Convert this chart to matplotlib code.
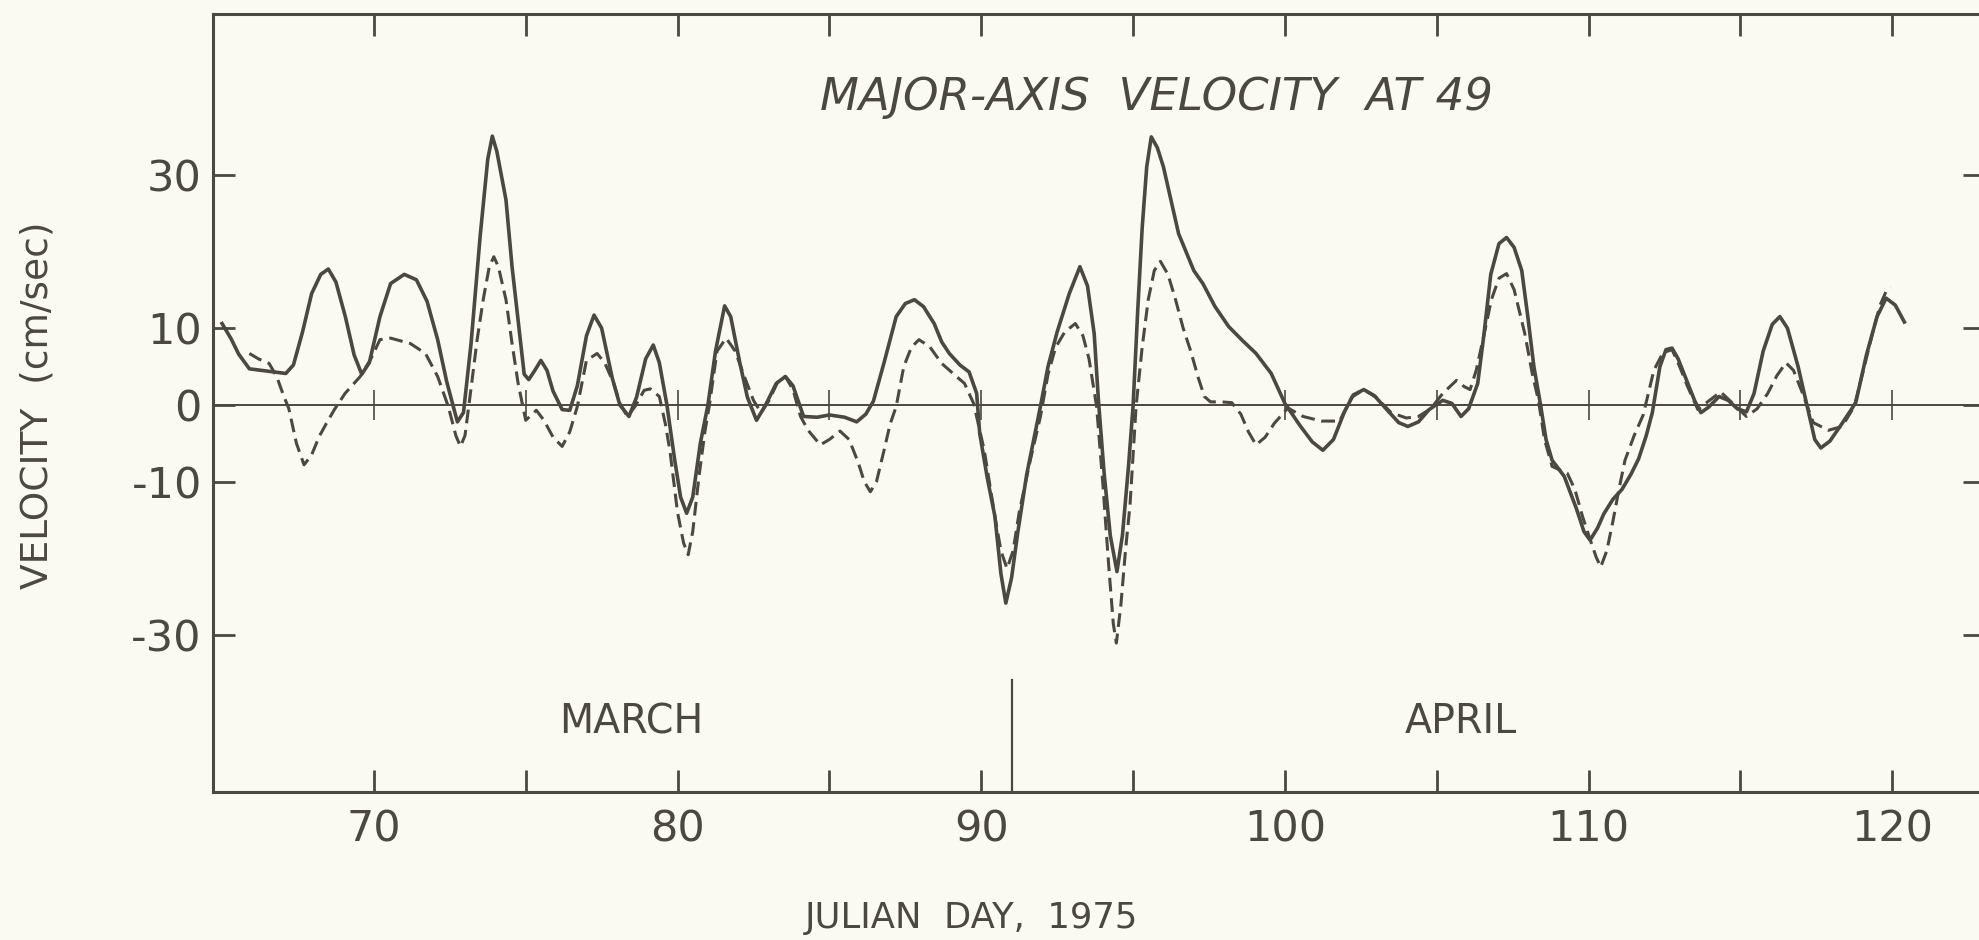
import matplotlib
matplotlib.use("Agg")
from matplotlib import pyplot as plt

# Major-axis velocity at mooring 49 (solid and dashed traces)
solid_day = [65.0, 65.3, 65.55, 65.9, 66.5, 67.1, 67.35, 67.65, 67.95, 68.25, 68.5, 68.75,
             69.06, 69.35, 69.6, 69.85, 70.2, 70.55, 71.0, 71.4, 71.75, 72.1, 72.4, 72.6,
             72.75, 72.95, 73.2, 73.5, 73.75, 73.9, 74.05, 74.35, 74.55, 74.75, 74.95, 75.1,
             75.3, 75.5, 75.7, 75.9, 76.2, 76.45, 76.7, 77.0, 77.25, 77.5, 77.85, 78.1,
             78.4, 78.65, 78.95, 79.2, 79.4, 79.65, 79.9, 80.1, 80.3, 80.5, 80.75, 81.0,
             81.25, 81.55, 81.75, 82.05, 82.3, 82.6, 82.9, 83.25, 83.55, 83.8, 84.15, 84.6,
             85.0, 85.5, 85.9, 86.2, 86.45, 86.8, 87.2, 87.5, 87.8, 88.1, 88.45, 88.7,
             88.95, 89.3, 89.6, 89.85, 89.95, 90.2, 90.45, 90.65, 90.81, 91.0, 91.2, 91.5,
             91.95, 92.2, 92.5, 92.9, 93.25, 93.5, 93.72, 93.86, 94.05, 94.25, 94.47, 94.65,
             94.85, 95.0, 95.15, 95.3, 95.45, 95.6, 95.8, 96.0, 96.5, 97.0, 97.3, 97.7,
             98.15, 98.6, 99.05, 99.55, 100.0, 100.5, 100.9, 101.25, 101.6, 101.95, 102.25, 102.6,
             102.95, 103.4, 103.75, 104.05, 104.4, 104.75, 105.2, 105.5, 105.8, 106.05, 106.35, 106.55,
             106.78, 107.05, 107.3, 107.55, 107.8, 108.0, 108.2, 108.42, 108.6, 108.8, 109.2, 109.6,
             109.85, 110.05, 110.3, 110.5, 110.8, 111.1, 111.4, 111.65, 111.9, 112.1, 112.35, 112.55,
             112.75, 112.95, 113.2, 113.5, 113.7, 113.95, 114.3, 114.6, 114.9, 115.2, 115.45, 115.75,
             116.05, 116.3, 116.55, 116.9, 117.2, 117.45, 117.65, 117.95, 118.35, 118.8, 119.15, 119.5,
             119.8, 120.1, 120.4]
solid_vel = [10.6, 8.6, 6.6, 4.7, 4.4, 4.1, 5.2, 9.5, 14.5, 17.0, 17.7, 16.0,
             11.5, 6.5, 4.0, 5.5, 11.5, 15.8, 17.0, 16.3, 13.5, 8.5, 3.0, 0.0,
             -2.2, -1.0, 8.0, 22.0, 32.0, 35.0, 33.0, 26.7, 18.0, 11.0, 4.0, 3.3,
             4.5, 5.8, 4.5, 1.8, -0.6, -0.7, 2.5, 9.0, 11.7, 10.0, 3.5, 0.0,
             -1.5, 1.0, 6.0, 7.8, 5.5, 0.0, -7.0, -12.0, -14.1, -12.0, -5.0, 0.0,
             7.0, 12.9, 11.5, 5.5, 1.0, -2.0, 0.0, 2.8, 3.7, 2.5, -1.5, -1.6,
             -1.3, -1.6, -2.2, -1.2, 0.5, 5.5, 11.5, 13.2, 13.7, 12.8, 10.6, 8.2,
             6.7, 5.2, 4.3, 1.5, -3.7, -9.5, -14.5, -22.0, -25.8, -22.5, -16.7, -9.0,
             -0.2, 5.0, 9.5, 14.5, 18.0, 15.5, 9.3, 0.6, -9.0, -17.0, -21.7, -17.0,
             -8.0, -0.2, 12.0, 23.0, 31.0, 34.9, 33.5, 31.0, 22.3, 17.5, 15.8, 12.8,
             10.2, 8.4, 6.7, 4.1, 0.2, -2.7, -4.8, -5.9, -4.5, -1.0, 1.3, 2.0,
             1.2, -0.8, -2.3, -2.8, -2.2, -0.6, 0.6, 0.2, -1.5, -0.5, 2.8, 9.0,
             17.0, 21.0, 21.8, 20.5, 17.5, 11.5, 5.0, 0.0, -4.5, -7.2, -9.3, -13.5,
             -16.5, -17.6, -16.0, -14.2, -12.3, -11.0, -9.0, -7.0, -4.0, -1.0, 5.0, 7.2,
             7.4, 6.0, 3.5, 0.5, -1.0, -0.3, 1.1, 0.6, -0.5, -0.9, 1.5, 7.0,
             10.5, 11.5, 10.0, 5.0, -0.2, -4.5, -5.6, -4.7, -2.4, 0.3, 6.5, 11.5,
             13.9, 13.0, 10.8]

dashed_day = [65.9, 66.2, 66.55, 66.8, 67.0, 67.2, 67.45, 67.7, 67.95, 68.2, 68.45, 68.7,
              69.05, 69.55, 69.9, 70.2, 70.55, 71.2, 71.7, 72.1, 72.45, 72.7, 72.85, 73.0,
              73.22, 73.4, 73.6, 73.8, 73.95, 74.1, 74.35, 74.55, 74.75, 75.0, 75.35, 75.6,
              75.9, 76.2, 76.45, 76.7, 77.0, 77.35, 77.6, 77.9, 78.1, 78.35, 78.6, 78.9,
              79.1, 79.4, 79.6, 79.75, 80.0, 80.2, 80.35, 80.5, 80.7, 80.9, 81.05, 81.3,
              81.6, 81.9, 82.2, 82.5, 82.75, 83.0, 83.3, 83.55, 83.8, 84.05, 84.3, 84.7,
              85.0, 85.35, 85.65, 85.95, 86.15, 86.35, 86.55, 86.8, 87.0, 87.2, 87.45, 87.7,
              87.95, 88.3, 88.7, 89.1, 89.45, 89.75, 90.1, 90.45, 90.65, 90.85, 91.05, 91.25,
              91.6, 91.95, 92.2, 92.45, 92.75, 93.1, 93.35, 93.55, 93.8, 94.0, 94.2, 94.35,
              94.45, 94.6, 94.75, 94.9, 95.1, 95.3, 95.5, 95.7, 95.9, 96.15, 96.4, 96.65,
              96.9, 97.15, 97.35, 97.55, 97.9, 98.25, 98.55, 98.8, 99.05, 99.35, 99.65, 100.1,
              100.6, 101.2, 101.8, 102.2, 102.6, 103.0, 103.5, 104.0, 104.4, 104.8, 105.2, 105.65,
              105.9, 106.1, 106.3, 106.55, 106.8, 107.05, 107.3, 107.55, 107.9, 108.15, 108.35, 108.55,
              108.8, 109.3, 109.55, 109.8, 110.05, 110.25, 110.4, 110.6, 110.8, 111.0, 111.2, 111.5,
              111.8, 112.15, 112.45, 112.75, 113.0, 113.25, 113.6, 113.95, 114.35, 114.75, 115.2, 115.55,
              115.9, 116.2, 116.5, 116.75, 117.05, 117.4, 117.9, 118.35, 118.75, 119.05, 119.35, 119.6,
              119.8, 119.95]
dashed_vel = [6.7, 6.0, 5.4, 3.7, 1.5, -0.5, -5.0, -7.8, -6.5, -4.1, -2.3, -0.6,
              1.5, 3.7, 6.0, 8.5, 8.7, 8.0, 6.7, 3.7, -0.2, -4.0, -5.4, -4.0,
              2.8, 8.5, 13.7, 18.0, 19.3, 18.0, 13.7, 8.0, 2.8, -2.0, -0.7, -2.0,
              -4.2, -5.4, -3.5, -0.2, 5.8, 6.7, 5.5, 2.8, 0.2, -1.5, -0.2, 1.9,
              2.1, 1.1, -2.5, -6.0, -14.0, -18.0, -19.5, -16.5, -9.5, -3.5, 0.0, 7.0,
              8.7, 7.0, 3.7, 0.6, -1.0, 0.5, 3.0, 3.7, 2.0, -1.5, -3.3, -5.2,
              -4.5, -3.4, -4.5, -7.5, -10.0, -11.3, -10.0, -5.9, -2.5, -0.2, 5.0, 7.5,
              8.5, 7.6, 5.4, 4.0, 2.8, 0.2, -5.9, -14.5, -19.0, -21.3, -19.0, -14.0,
              -7.5, -1.5, 4.0, 7.5, 9.5, 10.6, 9.0, 6.0, -0.2, -10.0, -21.0, -28.5,
              -31.0, -26.0, -19.0, -13.0, -0.2, 7.5, 13.7, 17.5, 18.7, 17.0, 13.7, 10.0,
              7.0, 3.5, 1.1, 0.4, 0.4, 0.3, -1.2, -3.5, -5.2, -4.2, -2.4, -0.4,
              -1.5, -2.1, -2.1, 1.0, 2.0, 1.0, -1.0, -1.7, -1.5, -0.5, 1.5, 3.2,
              2.4, 2.0, 4.5, 9.0, 13.7, 16.5, 17.1, 15.0, 9.3, 4.0, 0.6, -4.5,
              -8.0, -8.9, -11.0, -14.5, -17.5, -19.8, -21.1, -19.0, -15.2, -11.0, -7.2, -4.0,
              -1.3, 4.5, 6.8, 7.2, 5.0, 2.5, -0.6, 0.5, 1.7, 0.2, -1.5, -0.5,
              1.5, 3.8, 5.5, 4.5, 1.5, -2.3, -3.3, -2.8, -0.2, 4.5, 9.3, 13.0,
              14.8, 15.3]

minor_days = [70, 75, 80, 85, 90, 95, 100, 105, 110, 115, 120]
label_days = [70, 80, 90, 100, 110, 120]
vel_ticks = [30, 10, 0, -10, -30]
vel_labels = ["30", "10", "0", "-10", "-30"]
month_split = 91.0

ink = "#4b4842"
paper = "#fbfaf2"

fig = plt.figure(figsize=(19.79, 9.40), dpi=100, facecolor=paper)
ax = fig.add_axes([0.1076, 0.1574, 0.8955, 0.8277], facecolor=paper)
ax.set_xlim(64.7, 123.06)
ax.set_ylim(-50.4, 50.9)

ax.plot(solid_day, solid_vel, color=ink, lw=2.6, solid_joinstyle="round")
ax.plot(dashed_day, dashed_vel, color=ink, lw=2.2, dashes=(4.5, 2.2))

# zero line with small crossing ticks
ax.axhline(0, color=ink, lw=1.4)
ax.plot(minor_days, [0] * len(minor_days), ls="none", marker="|", ms=22, mew=1.2, color=ink)

# month divider
ax.plot([month_split, month_split], [-50.4, -35.8], color=ink, lw=1.6)

for s in ax.spines.values():
    s.set_color(ink)
    s.set_linewidth(2.2)

ax.set_xticks(minor_days)
ax.set_xticklabels([str(d) if d in label_days else "" for d in minor_days])
ax.set_yticks(vel_ticks)
ax.set_yticklabels(vel_labels)
ax.tick_params(axis="both", direction="in", length=16, width=2.0, color=ink,
               labelcolor=ink, labelsize=31, top=True, right=True)
ax.tick_params(axis="x", pad=12)
ax.tick_params(axis="y", pad=8)

ax.text(84.7, 40.0, "MAJOR-AXIS  VELOCITY  AT 49", fontsize=32.5, style="italic",
        color=ink, va="center", ha="left")
ax.text(78.47, -41.3, "MARCH", fontsize=28.5, color=ink, ha="center", va="center")
ax.text(105.8, -41.3, "APRIL", fontsize=28.5, color=ink, ha="center", va="center")

fig.text(0.0192, 0.569, "VELOCITY  (cm/sec)", rotation=90, fontsize=27, color=ink,
         ha="center", va="center")
fig.text(0.491, 0.023, "JULIAN  DAY,  1975", fontsize=25.5, color=ink,
         ha="center", va="center")

fig.savefig("out.png", dpi=100, facecolor=paper)
